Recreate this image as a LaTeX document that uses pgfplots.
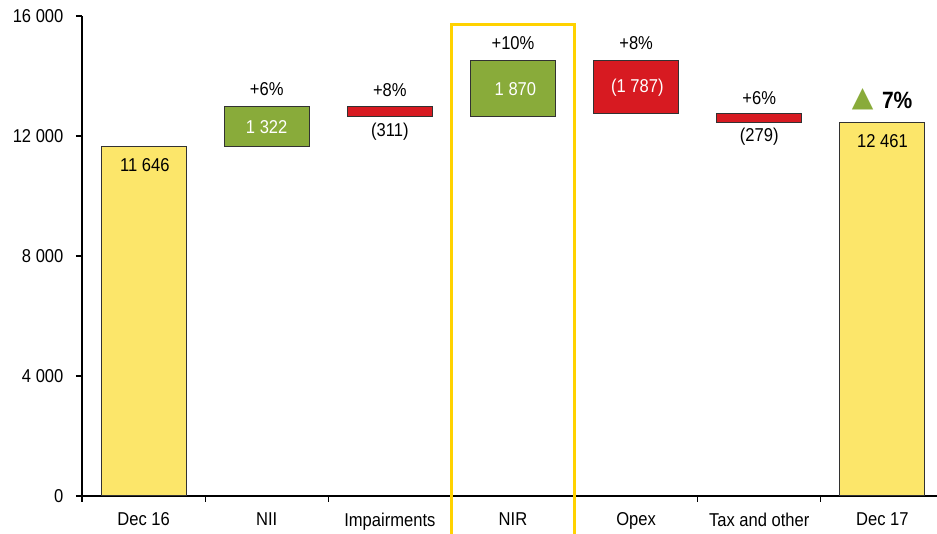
\documentclass[border=0pt]{standalone}
\usepackage{pgfplots}
\pgfplotsset{compat=1.18}
\usepackage{fontspec}
\setmainfont{Liberation Sans}[FakeStretch=0.89]
\newfontfamily\dejavu{DejaVu Sans}
\definecolor{barYellow}{RGB}{252,230,106}
\definecolor{barGreen}{RGB}{137,171,58}
\definecolor{barRed}{RGB}{215,26,33}
\definecolor{hlGold}{RGB}{255,210,0}
\definecolor{edge}{RGB}{50,50,50}
\begin{document}
\fontsize{9.3}{11}\selectfont
\begin{tikzpicture}
\path[use as bounding box] (-41pt,-19pt) rectangle (427.5pt,248pt);
\begin{axis}[
  scale only axis,
  width=431pt, height=240pt,
  xmin=-0.5, xmax=6.5,
  ymin=0, ymax=16000,
  clip=false,
  axis x line*=bottom,
  axis y line*=left,
  axis line style={line width=1pt, black},
  tick align=outside,
  major tick length=3pt,
  tick style={black, line width=0.6pt},
  xtick={-0.5,0.5,1.5,2.5,3.5,4.5,5.5},
  xticklabels={},
  extra x ticks={0,1,2,3,4,5,6},
  extra x tick labels={Dec 16,NII,Impairments,NIR,Opex,Tax and other,Dec 17},
  extra x tick style={major tick length=0pt, xticklabel style={yshift=-5pt}},
  ytick={0,4000,8000,12000,16000},
  yticklabels={0,4 000,8 000,12 000,16 000},
  yticklabel style={xshift=-3pt},
  scaled ticks=false,
  /pgf/number format/assume math mode=true,
]
% highlight box around NIR
\draw[hlGold, line width=1.5pt] (axis cs:2.5,-1300) -- (axis cs:2.5,15730) -- (axis cs:3.5,15730) -- (axis cs:3.5,-1300);
% Dec 16
\addplot[fill=barYellow, draw=edge, line width=0.5pt] coordinates {(-0.345,0) (0.345,0) (0.345,11646) (-0.345,11646)} -- cycle;
% NII +1322
\addplot[fill=barGreen, draw=edge, line width=0.5pt] coordinates {(0.655,11646) (1.345,11646) (1.345,12968) (0.655,12968)} -- cycle;
% Impairments -311
\addplot[fill=barRed, draw=edge, line width=0.5pt] coordinates {(1.655,12657) (2.345,12657) (2.345,12968) (1.655,12968)} -- cycle;
% NIR +1870
\addplot[fill=barGreen, draw=edge, line width=0.5pt] coordinates {(2.655,12657) (3.345,12657) (3.345,14527) (2.655,14527)} -- cycle;
% Opex -1787
\addplot[fill=barRed, draw=edge, line width=0.5pt] coordinates {(3.655,12740) (4.345,12740) (4.345,14527) (3.655,14527)} -- cycle;
% Tax and other -279
\addplot[fill=barRed, draw=edge, line width=0.5pt] coordinates {(4.655,12461) (5.345,12461) (5.345,12740) (4.655,12740)} -- cycle;
% Dec 17
\addplot[fill=barYellow, draw=edge, line width=0.5pt] coordinates {(5.655,0) (6.345,0) (6.345,12461) (5.655,12461)} -- cycle;
% labels
\node at (axis cs:0.01,11033) {11 646};
\node[white] at (axis cs:1,12300) {1 322};
\node at (axis cs:1,13567) {+6\%};
\node at (axis cs:2,13533) {+8\%};
\node at (axis cs:2,12133) {(311)};
\node at (axis cs:3,15100) {+10\%};
\node[white] at (axis cs:3.02,13567) {1 870};
\node at (axis cs:4,15100) {+8\%};
\node[white] at (axis cs:4.01,13600) {(1 787)};
\node at (axis cs:5,13267) {+6\%};
\node at (axis cs:5,11967) {(279)};
\node at (axis cs:6,11833) {12 461};
\node[barGreen, font=\dejavu\fontsize{14}{16}\selectfont] at (axis cs:5.84,13230) {▲};
\node[font=\bfseries\fontsize{11.8}{14}\selectfont] at (axis cs:6.12,13200) {7\%};
\end{axis}
\end{tikzpicture}
\end{document}
